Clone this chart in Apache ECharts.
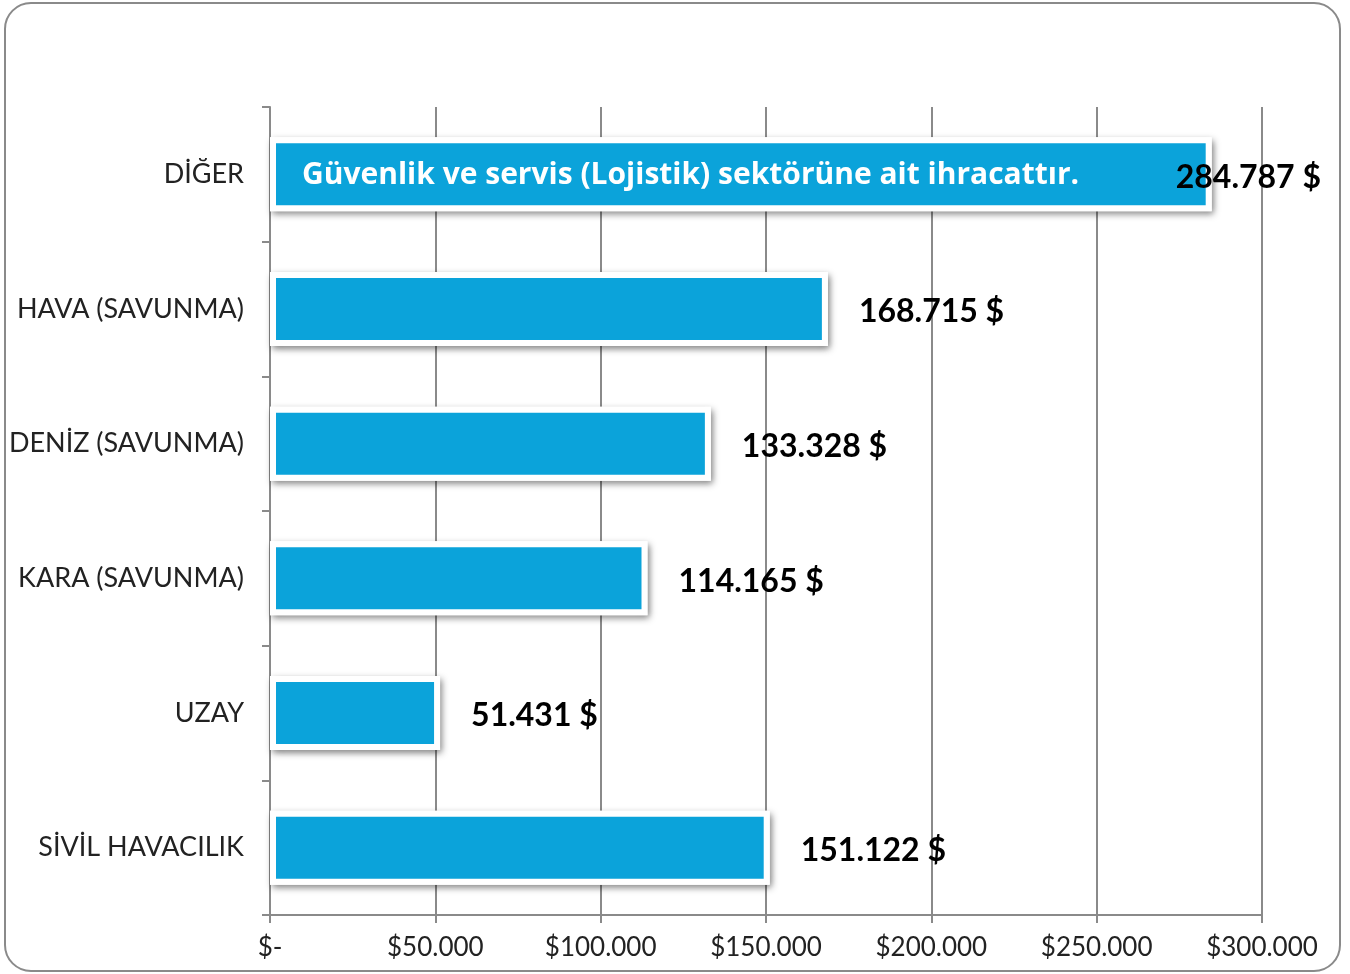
<!DOCTYPE html>
<html>
<head>
<meta charset="utf-8">
<style>
html, body { margin: 0; padding: 0; background: #fff; }
#chart { width: 1350px; height: 974px; }
</style>
<script src="https://cdn.jsdelivr.net/npm/echarts@6/dist/echarts.min.js"></script>
</head>
<body>
<div id="chart"></div>
<script>
var categories = ['SİVİL HAVACILIK', 'UZAY', 'KARA (SAVUNMA)', 'DENİZ (SAVUNMA)', 'HAVA (SAVUNMA)', 'DİĞER'];
var values = [151122, 51431, 114165, 133328, 168715, 284787];
var tickLabels = ['$-', '$50.000', '$100.000', '$150.000', '$200.000', '$250.000', '$300.000'];
var noteText = 'Güvenlik ve servis (Lojistik) sektörüne ait ihracattır.';
var noteIndex = 5;

var font = 'Lato';

function fmt(v) {
    return String(v).replace(/\B(?=(\d{3})+(?!\d))/g, '.') + ' $';
}

var chart = echarts.init(document.getElementById('chart'));

// blue bars + value labels
var barData = values.map(function(v, i) {
    var d = { value: v };
    if (i === noteIndex) {
        d.label = { offset: [-67, 3] };
    }
    return d;
});

// only the DİĞER bar carries the note
var noteData = values.map(function(v, i) {
    return i === noteIndex ? v : '-';
});

var option = {
    animation: false,
    graphic: [{
        type: 'rect',
        shape: { x: 5, y: 3, width: 1335, height: 968, r: 26 },
        style: { fill: 'none', stroke: '#8a8a8a', lineWidth: 2 },
        z: -1
    }],
    grid: {
        left: 270,
        right: 88,
        top: 107,
        bottom: 59
    },
    xAxis: {
        type: 'value',
        min: 0,
        max: 300000,
        interval: 50000,
        axisLine: { show: true, lineStyle: { color: '#8a8a8a', width: 2 } },
        axisTick: { show: true, length: 8, lineStyle: { color: '#8a8a8a', width: 2 } },
        splitLine: { show: true, lineStyle: { color: '#8a8a8a', width: 2 } },
        axisLabel: {
            margin: 20,
            color: '#222',
            fontFamily: font,
            fontSize: 26,
            formatter: function(v) {
                return tickLabels[Math.round(v / 50000)];
            }
        }
    },
    yAxis: {
        type: 'category',
        data: categories,
        axisLine: { show: true, lineStyle: { color: '#8a8a8a', width: 2 } },
        axisTick: { show: true, length: 8, lineStyle: { color: '#8a8a8a', width: 2 } },
        axisLabel: {
            margin: 26,
            color: '#222',
            fontFamily: font,
            fontSize: 27
        }
    },
    series: [{
        // white frame with shadow behind the blue bar
        name: 'frame',
        type: 'bar',
        barWidth: 74,
        data: values,
        silent: true,
        itemStyle: {
            color: '#fff',
            borderColor: '#fff',
            borderWidth: 6,
            shadowColor: 'rgba(0,0,0,0.4)',
            shadowBlur: 7,
            shadowOffsetX: 2,
            shadowOffsetY: 3
        },
        z: 1
    }, {
        name: 'ihracat',
        type: 'bar',
        barWidth: 74,
        barGap: '-100%',
        data: barData,
        itemStyle: {
            color: '#0ba3da',
            borderColor: '#fff',
            borderWidth: 6
        },
        label: {
            show: true,
            position: 'right',
            distance: 31,
            offset: [0, 3],
            color: '#000',
            fontFamily: font,
            fontWeight: 'bold',
            fontSize: 32,
            formatter: function(p) {
                return fmt(p.value);
            }
        },
        z: 2
    }, {
        name: 'not',
        type: 'bar',
        barWidth: 74,
        barGap: '-100%',
        data: noteData,
        itemStyle: { color: 'rgba(0,0,0,0)' },
        label: {
            show: true,
            position: 'insideLeft',
            distance: 32,
            offset: [0, 1],
            color: '#fff',
            fontFamily: 'Open Sans',
            fontWeight: 'bold',
            fontSize: 30,
            formatter: noteText
        },
        z: 3
    }]
};

chart.setOption(option);
</script>
</body>
</html>
